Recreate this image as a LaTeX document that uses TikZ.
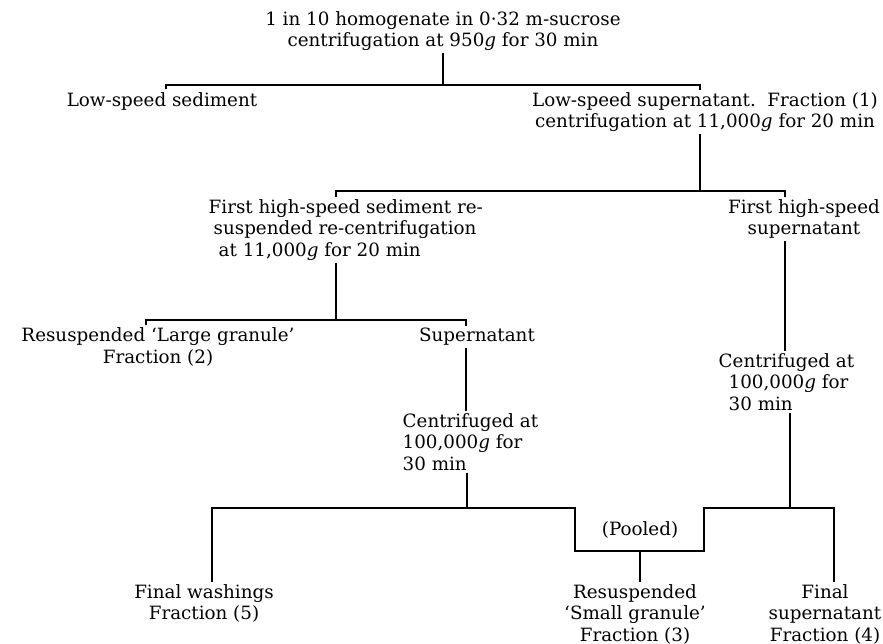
\documentclass[tikz,border=0pt]{standalone}
\usepackage{fontspec}
\setmainfont{DejaVu Serif}
\usetikzlibrary{positioning}

\tikzset{
  stage/.style={inner sep=2.5pt, align=center, font=\fontsize{18.3}{21.3}\selectfont},
  stagel/.style={stage, align=left},
  link/.style={line width=1.3pt}
}

\begin{document}
\begin{tikzpicture}[x=1pt,y=-1pt]
\useasboundingbox (0,0) rectangle (883,644);

% first spin
\node[stage] (hom) at (443,31){1 in 10 homogenate in 0·32 m-sucrose\\centrifugation at 950\textit{g} for 30 min};
\node[stage] (lsed) at (162,101){Low-speed sediment};
\node[stage] (lsup) at (705,112){Low-speed supernatant.\ \ Fraction (1)\\centrifugation at 11,000\textit{g} for 20 min};
\coordinate (bar1) at (443,85);
\coordinate (bar1l) at (166,85);
\coordinate (bar1r) at (700,85);
\draw[link] (hom) -- (bar1);
\draw[link] (bar1l |- lsed.north) -- (bar1l) -- (bar1r) -- (bar1r |- lsup.north);

% second spin
\node[stagel,anchor=west] (hsed) at (206,230){First high-speed sediment re-\\\hspace{5pt}suspended re-centrifugation\\\hspace{10pt}at 11,000\textit{g} for 20 min};
\node[stage] (hsup) at (804,219){First high-speed\\supernatant};
\coordinate (bar2) at (700,191);
\coordinate (bar2l) at (336,191);
\coordinate (bar2r) at (785,191);
\draw[link] (bar1r |- lsup.south) -- (bar2);
\draw[link] (bar2l |- hsed.north) -- (bar2l) -- (bar2r) -- (bar2r |- hsup.north);

% washing
\node[stage] (large) at (158,347){Resuspended ‘Large granule’\\Fraction (2)};
\node[stage] (sn) at (477,337){Supernatant};
\coordinate (bar3) at (336,320);
\coordinate (bar3l) at (146,320);
\coordinate (bar3r) at (466,320);
\draw[link] (bar2l |- hsed.south) -- (bar3);
\draw[link] (bar3l |- large.north) -- (bar3l) -- (bar3r) -- (bar3r |- sn.north);

\node[stagel,anchor=west] (cfa) at (400,442){Centrifuged at\\100,000\textit{g} for\\30 min};
\node[stagel,anchor=west] (cfb) at (716,382){Centrifuged at\\\hspace{10pt}100,000\textit{g} for\\\hspace{10pt}30 min};
\draw[link] (bar3r |- sn.south) -- (bar3r |- cfa.north);
\draw[link] (bar2r |- hsup.south) -- (bar2r |- cfb.north);

% last spin, pooled
\node[stage,anchor=north] (fw) at (204,582){Final washings\\Fraction (5)};
\node[stage,anchor=north] (sg) at (635,582){Resuspended\\‘Small granule’\\Fraction (3)};
\node[stage,anchor=north] (fs) at (825,582){Final\\supernatant\\Fraction (4)};
\node[stage] (pool) at (640,530){(Pooled)};
\coordinate (bar4) at (467,508);
\coordinate (bar4l) at (212,508);
\coordinate (pl) at (575,551);
\coordinate (pm) at (640,551);
\coordinate (pr) at (704,551);
\coordinate (bar5) at (790,508);
\coordinate (bar5r) at (834,508);
\draw[link] (bar4 |- cfa.south) -- (bar4);
\draw[link] (bar5 |- cfb.south) -- (bar5);
\draw[link] (bar4l |- fw.north) -- (bar4l) -- (pl |- bar4l) -- (pl) -- (pr) -- (pr |- bar5) -- (bar5r) -- (bar5r |- fs.north);
\draw[link] (pm) -- (pm |- sg.north);

\end{tikzpicture}
\end{document}
